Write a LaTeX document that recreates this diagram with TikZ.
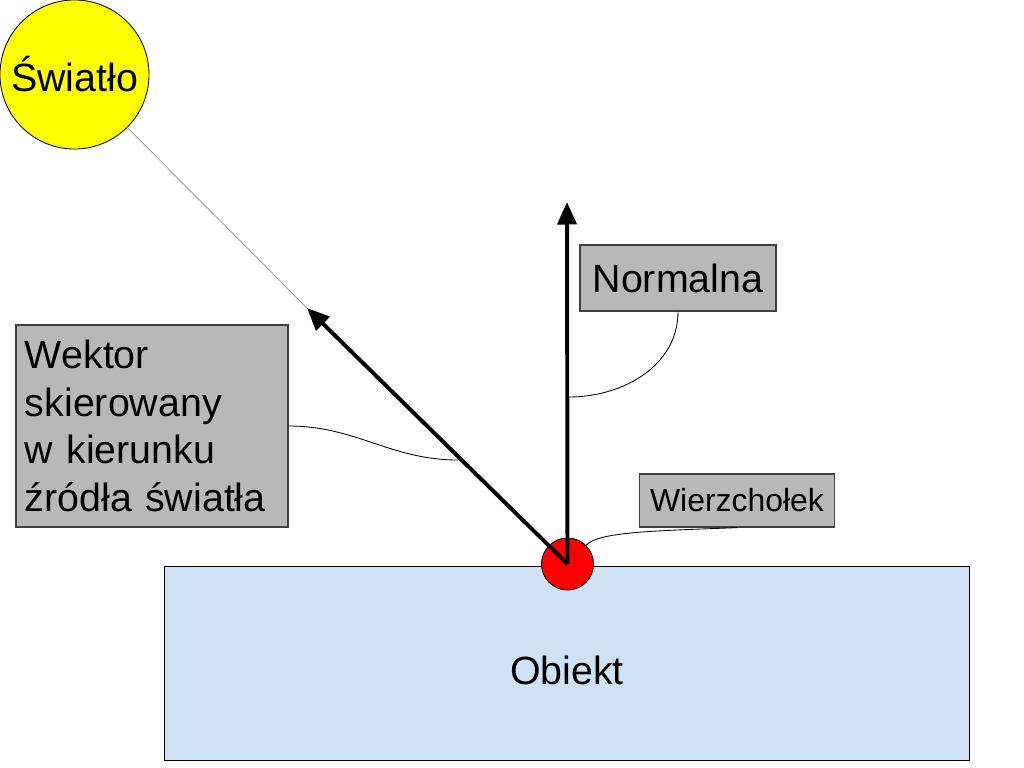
\documentclass[tikz,border=0pt]{standalone}
\usepackage{fontspec}
\setmainfont{Liberation Sans}
\usetikzlibrary{arrows.meta}

\definecolor{sunyellow}{HTML}{FFFF00}
\definecolor{vertred}{HTML}{FF0000}
\definecolor{objblue}{HTML}{CFE2F3}
\definecolor{boxgray}{HTML}{B8B8B8}
\definecolor{raygray}{HTML}{999999}

\tikzset{
   labelbox/.style={draw=black!75, line width=0.9pt, fill=boxgray, inner sep=0pt,
      font=\fontsize{28}{33.7}\selectfont},
   vec/.style={line width=2.8pt, -{Triangle[length=16pt,width=13.5pt]}},
   ray/.style={draw=raygray, line width=0.6pt},
   link/.style={line width=0.6pt}
}

\begin{document}
\begin{tikzpicture}[x=0.025cm, y=-0.025cm]
   %% jednostka = 1 piksel obrazu, y rosnie w dol
   \useasboundingbox (0,0) rectangle (1024,768);

   \node[draw=black, line width=0.6pt, fill=objblue, minimum width=20.1cm,
      minimum height=4.85cm, inner sep=0pt, text height=31pt, text depth=0pt,
      font=\fontsize{28}{33.7}\selectfont]
      (obj) at (567,663) {Obiekt};

   \node[circle, draw=black, line width=0.6pt, fill=sunyellow, minimum size=3.725cm,
      inner sep=0pt, font=\fontsize{28}{33.7}\selectfont]
      (sun) at (74.5,74.5) {Światło};

   \node[circle, draw=black, line width=0.6pt, fill=vertred, minimum size=1.3cm,
      inner sep=0pt] (vert) at (567.5,564) {};

   %% wektory
   \coordinate (L) at (307,308);
   \coordinate (N) at (567,202);
   \draw[ray] (sun) -- (L);
   \draw[vec] (vert.center) -- (L);
   \draw[vec] (vert.center) -- (N);

   %% opisy
   \node[labelbox, minimum width=4.9cm, minimum height=1.65cm] (norm) at (678,278) {Normalna};
   \node[labelbox, minimum width=4.875cm, minimum height=1.325cm,
      font=\fontsize{22.7}{27}\selectfont] (wierz) at (737,500.5) {Wierzchołek};
   \node[labelbox, text width=6.35cm, align=left, minimum width=6.8cm, minimum height=5.05cm]
      (wekt) at (152,426) {Wektor\\skierowany\\w kierunku\\źródła światła};

   \coordinate (nfoot) at (569,397);
   \coordinate (wfoot) at (458,460);

   \draw[link] (norm.south) to[out=-90, in=0] (nfoot);
   \draw[link] (wekt.east) to[out=0, in=180] (wfoot);
   \draw[link] (wierz.south) .. controls (650,531) and (598,532) .. (vert.45);

\end{tikzpicture}
\end{document}
